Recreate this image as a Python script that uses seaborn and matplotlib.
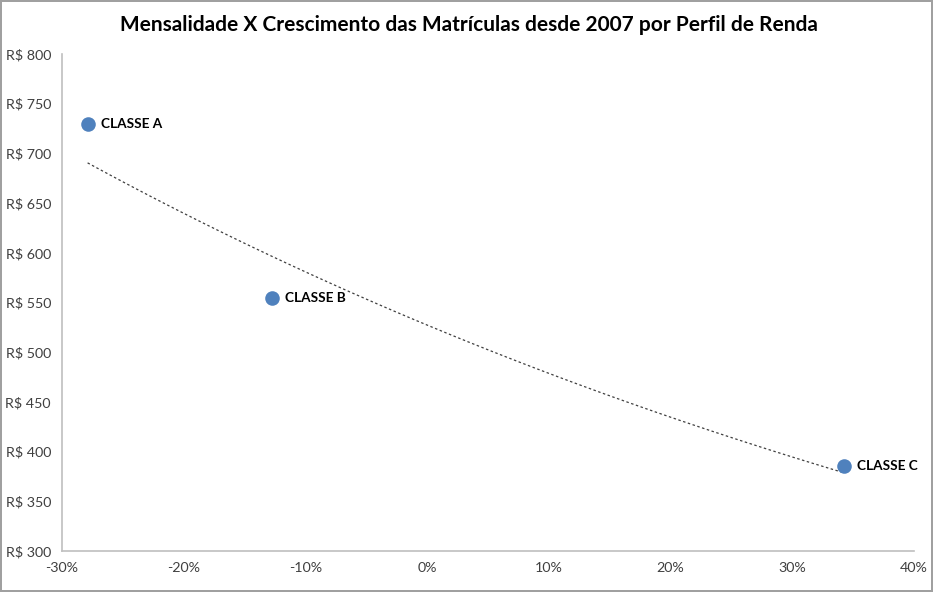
import numpy as np
import pandas as pd
import matplotlib
matplotlib.use("Agg")
import matplotlib.pyplot as plt
import matplotlib.ticker as mticker
import seaborn as sns

# dados
classes = ["CLASSE A", "CLASSE B", "CLASSE C"]
crescimento = [-0.279, -0.1275, 0.3425]   # crescimento das matrículas desde 2007
mensalidade = [729.6, 554.5, 385.5]       # R$

df = pd.DataFrame({"classe": classes, "crescimento": crescimento, "mensalidade": mensalidade})

# linha de tendência exponencial (como no Excel)
b, ln_a = np.polyfit(df["crescimento"], np.log(df["mensalidade"]), 1)
xt = np.linspace(df["crescimento"].min(), df["crescimento"].max(), 100)
trend = pd.DataFrame({"x": xt, "y": np.exp(ln_a + b * xt)})

sns.set_style("white")
plt.rcParams["font.family"] = ["Lato", "DejaVu Sans"]

fig = plt.figure(figsize=(9.33, 5.92), dpi=100)
ax = fig.add_axes([0.0665, 0.0693, 0.913, 0.8395])

sns.lineplot(data=trend, x="x", y="y", ax=ax, color="#404040", lw=0.9,
             linestyle=(0, (2, 2)))
sns.scatterplot(data=df, x="crescimento", y="mensalidade", ax=ax, s=110,
                color="#4F81BD", edgecolor="#4F81BD", linewidth=0, zorder=3)

for _, r in df.iterrows():
    ax.annotate(r["classe"], (r["crescimento"], r["mensalidade"]),
                xytext=(9.5, 0), textcoords="offset points", va="center",
                fontsize=9.8, fontweight="bold", color="black")

ax.set_xlim(-0.30, 0.40)
ax.set_ylim(300, 800)
ax.set_xticks(np.arange(-0.30, 0.401, 0.10))
ax.set_yticks(np.arange(300, 801, 50))
ax.xaxis.set_major_formatter(mticker.FuncFormatter(lambda v, p: f"{v * 100:.0f}%"))
ax.yaxis.set_major_formatter(mticker.FuncFormatter(lambda v, p: f"R$ {v:.0f}"))
ax.tick_params(axis="both", labelsize=10.3, colors="#404040", length=0, pad=8)
ax.set_xlabel("")
ax.set_ylabel("")

for s in ["top", "right"]:
    ax.spines[s].set_visible(False)
for s in ["left", "bottom"]:
    ax.spines[s].set_color("#BFBFBF")
    ax.spines[s].set_linewidth(1.2)

fig.suptitle("Mensalidade X Crescimento das Matrículas desde 2007 por Perfil de Renda",
             x=0.503, y=0.975, fontsize=15, fontweight="bold", color="black")

fig.patch.set_edgecolor("#A0A0A0")
fig.patch.set_linewidth(1.5)

fig.savefig("out.png", dpi=100, edgecolor=fig.get_edgecolor())
